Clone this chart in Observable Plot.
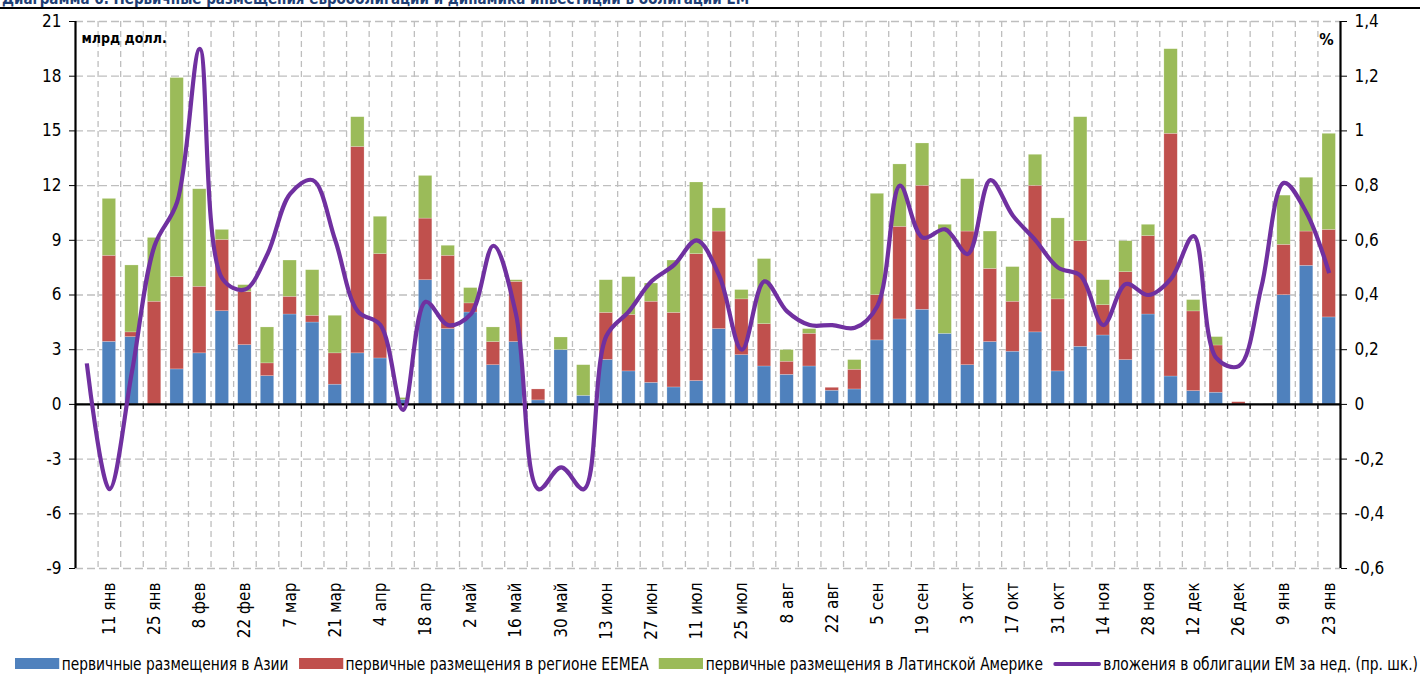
<!DOCTYPE html>
<html><head><meta charset="utf-8">
<script src="https://cdn.jsdelivr.net/npm/d3@7"></script>
<script src="https://cdn.jsdelivr.net/npm/@observablehq/plot@0.6"></script>
<style>
body{margin:0;background:#fff;}
#wrap{position:relative;width:1426px;height:675px;overflow:hidden;font-family:"Liberation Sans Narrow","DejaVu Sans Condensed","Roboto Condensed",sans-serif;}
#chart{position:absolute;left:0;top:0;}
#title{position:absolute;left:2px;top:-10px;font:bold 15px "Liberation Sans Narrow","DejaVu Sans Condensed",sans-serif;color:#1F3F75;white-space:nowrap;}
#rule{position:absolute;left:0;top:7px;width:1420px;height:2px;background:#000;}
#legend{position:absolute;left:15px;top:653px;display:inline-flex;align-items:center;font-size:18px;color:#000;white-space:nowrap;transform-origin:0 50%;}
#legend .it{display:inline-flex;align-items:center;margin-right:12px;}
#legend .it:last-child{margin-right:0;}
#legend .sw{display:inline-block;width:52px;height:11px;margin-right:3px;}
#legend .ln{display:inline-block;width:56px;height:4px;margin-right:3px;border-radius:2px;}
</style></head>
<body>
<div id="wrap">
  <div id="chart"></div>
  <div id="title">Диаграмма 6. Первичные размещения еврооблигаций и динамика инвестиций в облигации EM</div>
  <div id="rule"></div>
  <div id="legend"></div>
</div>
<script>
// Weekly categories (weeks ending Wednesday, 4 Jan 2012 – 23 Jan 2013)
const weeks = [
  "4 янв","11 янв","18 янв","25 янв","1 фев","8 фев","15 фев","22 фев","29 фев",
  "7 мар","14 мар","21 мар","28 мар","4 апр","11 апр","18 апр","25 апр",
  "2 май","9 май","16 май","23 май","30 май","6 июн","13 июн","20 июн","27 июн",
  "4 июл","11 июл","18 июл","25 июл","1 авг","8 авг","15 авг","22 авг","29 авг",
  "5 сен","12 сен","19 сен","26 сен","3 окт","10 окт","17 окт","24 окт","31 окт",
  "7 ноя","14 ноя","21 ноя","28 ноя","5 дек","12 дек","19 дек","26 дек",
  "2 янв","9 янв","16 янв","23 янв"
];
// Labelled weeks on the x axis
const labelledWeeks = ["11 янв","25 янв","8 фев","22 фев","7 мар","21 мар","4 апр","18 апр","2 май","16 май","30 май","13 июн","27 июн","11 июл","25 июл","8 авг","22 авг","5 сен","19 сен","3 окт","17 окт","31 окт","14 ноя","28 ноя","12 дек","26 дек","9 янв","23 янв"];

// Primary placements, bn USD
const asia = [0,3.43,3.69,0,1.92,2.80,5.11,3.25,1.55,4.93,4.49,1.08,2.80,2.52,0.25,6.81,4.13,5.04,2.15,3.42,0.22,2.98,0.47,2.44,1.81,1.18,0.93,1.28,4.13,2.70,2.08,1.62,2.08,0.75,0.82,3.51,4.66,5.19,3.87,2.15,3.42,2.89,3.95,1.81,3.16,3.78,2.43,4.93,1.53,0.73,0.64,0,0,5.99,7.60,4.77];
const eemea = [0,4.72,0.26,5.63,5.06,3.65,3.91,2.92,0.70,0.97,0.37,1.72,11.32,5.72,0,3.38,4.02,0.50,1.27,3.30,0.60,0,0,2.58,3.10,4.45,4.09,6.96,5.35,3.06,2.32,0.72,1.79,0.16,1.08,2.48,5.08,6.80,0,7.33,4.01,2.74,8.04,3.95,5.79,1.66,4.82,4.30,13.31,4.37,2.59,0.12,0,2.76,1.88,4.80];
const latam = [0,3.12,3.67,3.50,10.92,5.35,0.55,0.37,1.97,1.99,2.50,2.06,1.63,2.05,0.10,2.34,0.55,0.84,0.80,0.09,0,0.69,1.68,1.79,2.07,1.00,2.87,3.93,1.27,0.51,3.57,0.64,0.26,0,0.53,5.56,3.42,2.32,5.98,2.87,2.05,1.90,1.70,4.44,6.80,1.37,1.70,0.62,4.64,0.62,0.46,0,0,2.70,2.95,5.27];
// Weekly flows into EM bond funds, % (right axis)
const flows = [0.15,-0.31,0.12,0.58,0.74,1.30,0.46,0.42,0.55,0.77,0.82,0.60,0.34,0.29,-0.02,0.375,0.29,0.33,0.58,0.33,-0.31,-0.23,-0.31,0.25,0.34,0.45,0.51,0.60,0.47,0.20,0.45,0.34,0.29,0.29,0.28,0.36,0.80,0.61,0.64,0.55,0.82,0.69,0.60,0.50,0.47,0.29,0.44,0.40,0.46,0.615,0.17,0.14,0.43,0.81,0.70,0.48];

const seriesNames = ["первичные размещения в Азии","первичные размещения в регионе EEMEA","первичные размещения в Латинской Америке"];
const lineName = "вложения в облигации EM за нед. (пр. шк.)";
const colors = ["#4F81BD","#C0504D","#9BBB59"];
const lineColor = "#7030A0";

const leftTicks = [-9,-6,-3,0,3,6,9,12,15,18,21];
const rightTicks = [-0.6,-0.4,-0.2,0,0.2,0.4,0.6,0.8,1,1.2,1.4];
const SCALE = 15; // 1.4 % on the right axis ↔ 21 bn USD on the left

const rows = weeks.flatMap((w, i) => [
  {i, s: seriesNames[0], v: asia[i]},
  {i, s: seriesNames[1], v: eemea[i]},
  {i, s: seriesNames[2], v: latam[i]}
]);
const lineRows = weeks.map((w, i) => ({i, v: flows[i]}));
const labelIdx = labelledWeeks.map(w => weeks.indexOf(w) + 0.5);
const fmt = v => String(+v.toFixed(1)).replace(".", ",");
const FONT = '"Liberation Sans Narrow","DejaVu Sans Condensed","Roboto Condensed",sans-serif';

const chart = Plot.plot({
  width: 1426,
  height: 645,
  marginLeft: 75,
  marginRight: 86,
  marginTop: 21,
  marginBottom: 77,
  style: {background: "transparent", fontFamily: FONT, fontSize: "17px", color: "#000"},
  x: {type: "linear", domain: [0, weeks.length], axis: null},
  y: {domain: [-9, 21], axis: null},
  color: {domain: seriesNames, range: colors},
  marks: [
    Plot.ruleY(leftTicks, {stroke: "#BEBEBE", strokeWidth: 1.3, strokeDasharray: "8,4"}),
    Plot.ruleX(d3.range(1, weeks.length), {stroke: "#BEBEBE", strokeWidth: 1.3, strokeDasharray: "6,4"}),
    Plot.rectY(rows, {x: "i", interval: 1, y: "v", fill: "s", insetLeft: 4.6, insetRight: 4.6, stroke: "#ffffff", strokeOpacity: 0.35, strokeWidth: 0.6}),
    Plot.ruleY([0], {stroke: "#000", strokeWidth: 2.2}),
    Plot.ruleX(d3.range(0, weeks.length + 1), {y1: 0, y2: 0, insetBottom: -5, stroke: "#000", strokeWidth: 1.3}),
    Plot.ruleX([0, weeks.length], {stroke: "#000", strokeWidth: 2.2}),
    Plot.line(lineRows, {x: d => d.i + 0.5, y: d => d.v * SCALE, stroke: lineColor, strokeWidth: 4.2, curve: "catmull-rom", strokeLinecap: "butt"}),
    Plot.axisY({anchor: "left", label: null, ticks: leftTicks, tickSize: 6, tickPadding: 8, tickFormat: d => String(d), fontSize: 17}),
    Plot.axisY({anchor: "right", label: null, ticks: rightTicks.map(v => v * SCALE), tickSize: 6, tickPadding: 8, tickFormat: d => fmt(d / SCALE), fontSize: 17}),
    Plot.axisX({anchor: "bottom", label: null, ticks: labelIdx, tickFormat: d => weeks[Math.floor(d)], tickRotate: -90, tickSize: 0, tickPadding: 14, fontSize: 17}),
    Plot.text(["млрд долл."], {frameAnchor: "top-left", dx: 6, dy: 12, fontSize: 14, fontWeight: "bold", textAnchor: "start"}),
    Plot.text(["%"], {frameAnchor: "top-right", dx: -14, dy: 12, fontSize: 16, fontWeight: "bold", textAnchor: "middle"})
  ]
});
document.getElementById("chart").appendChild(chart);

const legend = document.getElementById("legend");
seriesNames.forEach((n, k) => {
  const it = document.createElement("span"); it.className = "it";
  const sw = document.createElement("span"); sw.className = "sw"; sw.style.background = colors[k];
  it.appendChild(sw); it.appendChild(document.createTextNode(n));
  legend.appendChild(it);
});
{
  const it = document.createElement("span"); it.className = "it";
  const ln = document.createElement("span"); ln.className = "ln"; ln.style.background = lineColor;
  it.appendChild(ln); it.appendChild(document.createTextNode(lineName));
  legend.appendChild(it);
}
// fit the legend row to the reference's span (x 15 … 1418)
const lw = legend.getBoundingClientRect().width;
legend.style.transform = `scaleX(${1403 / lw})`;
</script>
</body></html>
